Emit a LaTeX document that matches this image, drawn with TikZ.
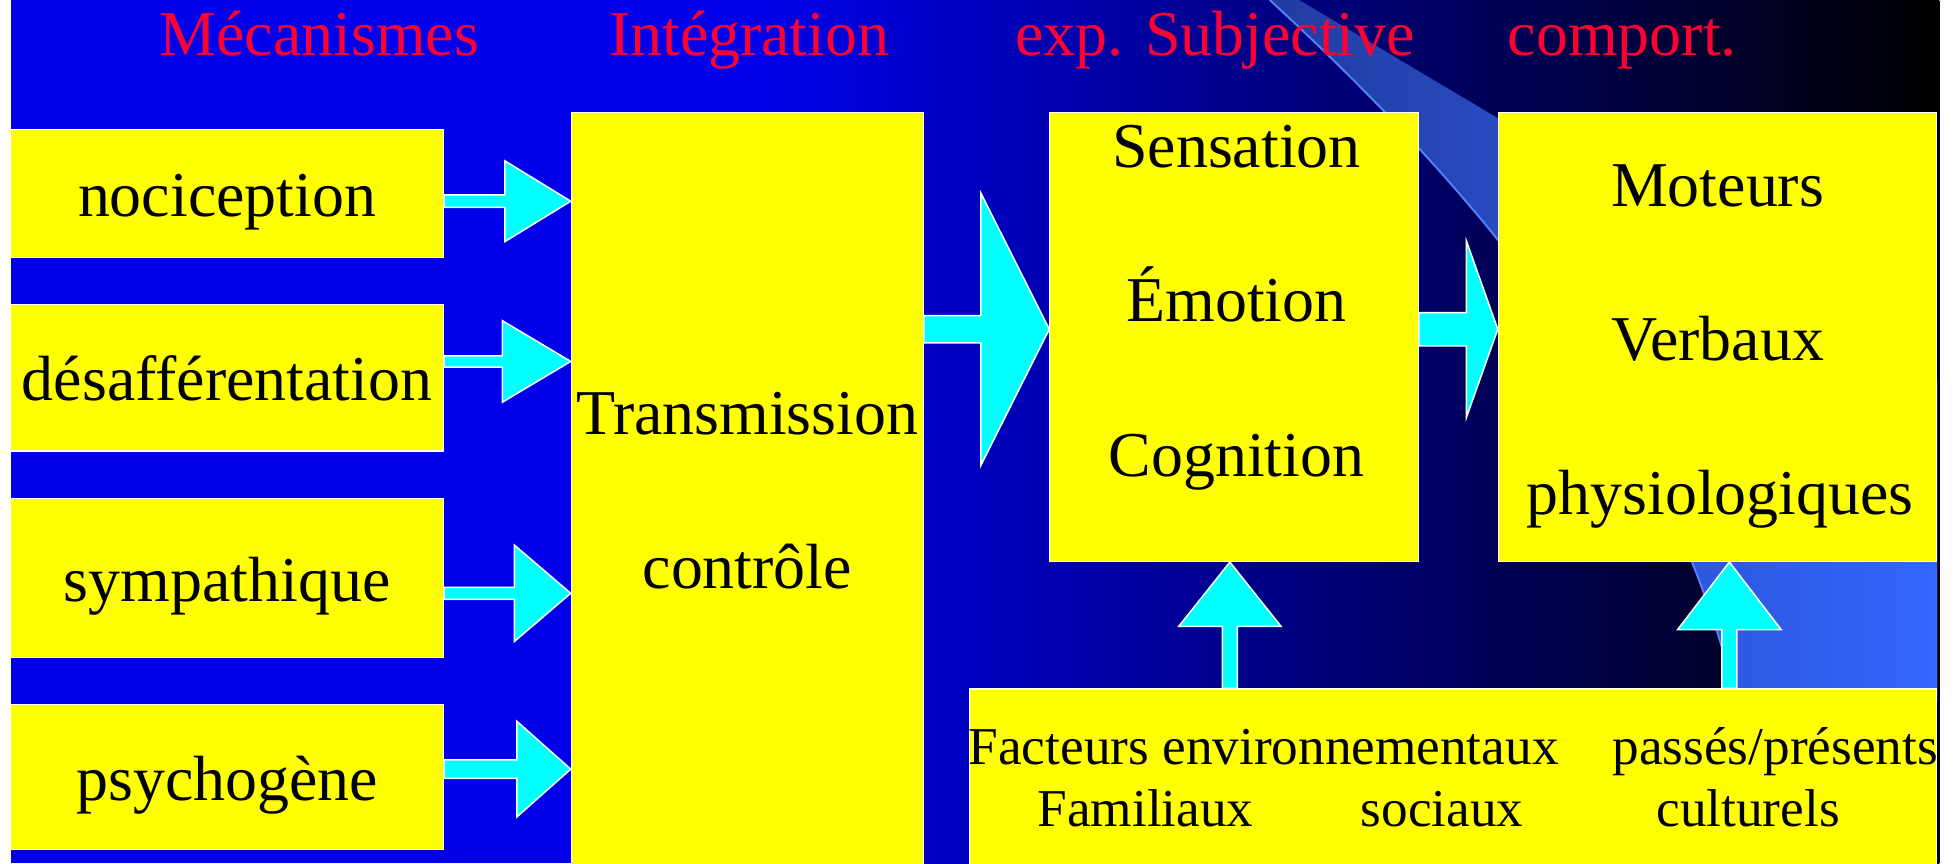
\documentclass[tikz,border=0pt]{standalone}
\usepackage{fontspec}
\setmainfont{Liberation Serif}
\usepackage{tikz}
\usetikzlibrary{calc}

\definecolor{bgblue}{RGB}{0,0,235}
\definecolor{headred}{RGB}{255,0,51}
\definecolor{boxyellow}{RGB}{255,255,0}
\definecolor{arrowcyan}{RGB}{0,255,255}
\definecolor{swoosh}{RGB}{51,102,255}
\definecolor{swooshdark}{RGB}{34,60,160}
\definecolor{swooshedge}{RGB}{80,130,255}

\tikzset{
  box/.style={draw=white,line width=0.9pt,fill=boxyellow,inner sep=0pt},
  flow/.style={draw=white,line width=1.2pt,fill=arrowcyan},
  head/.style={text=headred,font=\fontsize{51}{61}\selectfont,anchor=base,inner sep=0pt},
  lbl/.style={font=\fontsize{51}{61}\selectfont,anchor=base,inner sep=0pt},
  small/.style={font=\fontsize{42.5}{51}\selectfont,anchor=base west,inner sep=0pt}
}

% block arrow: tail, tip, half shaft, half head, head length (pt)
\newcommand\bigarrow[5]{%
  \coordinate (fb) at ($(#2)!#5pt!(#1)$);
  \filldraw[flow] ($(#1)!#3pt!90:(#2)$) -- ($(fb)!#3pt!90:(#2)$) -- ($(fb)!#4pt!90:(#2)$) -- (#2)
    -- ($(fb)!#4pt!-90:(#2)$) -- ($(fb)!#3pt!-90:(#2)$) -- ($(#1)!#3pt!-90:(#2)$) -- cycle;}

\begin{document}
\begin{tikzpicture}[x=1pt,y=-1pt]
  \useasboundingbox (0,0) rectangle (1560.5,689);

  % background and swoosh
  \fill[bgblue] (8.5,0) rectangle (602,689);
  \shade[left color=bgblue,right color=black] (600,0) rectangle (1548,689);
  \shade[left color=swooshdark,right color=swoosh] (1013.5,-2) -- (1033.6,-2) -- (1546.5,303)
    -- (1546.5,560) -- (1386,560) .. controls (1340,375) and (1231.5,200) .. (1013.5,0) -- cycle;
  \draw[swooshedge,line width=1.5pt] (1013.5,0) .. controls (1231.5,200) and (1340,375) .. (1385,555);

  % boxes
  \node[box,minimum width=345.5pt,minimum height=102.2pt] (noci)   at (181.25,154.5)  {};
  \node[box,minimum width=345.5pt,minimum height=117pt]   (desaff) at (181.25,301.5)  {};
  \node[box,minimum width=345.5pt,minimum height=126.7pt] (sympa)  at (181.25,461.35) {};
  \node[box,minimum width=345.5pt,minimum height=116pt]   (psycho) at (181.25,620)    {};
  \node[box,minimum width=281pt,minimum height=610pt]     (trans)  at (596.5,395)     {};
  \node[box,minimum width=294pt,minimum height=358.2pt]   (sens)   at (985,269.1)     {};
  \node[box,minimum width=350pt,minimum height=358.2pt]   (mot)    at (1371,269.1)    {};
  \node[box,minimum width=772pt,minimum height=150pt]     (fact)   at (1160,625)      {};

  % labels
  \node[lbl] (lnoci)   at (181.25,173) {nociception};
  \node[lbl] (ldesaff) at (181.25,320) {désafférentation};
  \node[lbl] (lsympa)  at (181.25,480) {sympathique};
  \node[lbl] (lpsycho) at (181.25,639) {psychogène};
  \node[lbl] (ltrans)  at (596.5,347)  {Transmission};
  \node[lbl] (lctrl)   at (596.5,470)  {contrôle};
  \node[lbl] (lsens)   at (987,134)    {Sensation};
  \node[lbl] (lemo)    at (987,257)    {Émotion};
  \node[lbl] (lcogn)   at (987,380)    {Cognition};
  \node[lbl] (lmot)    at (1371,165)   {Moteurs};
  \node[lbl] (lverb)   at (1371,288)   {Verbaux};
  \node[lbl] (lphys)   at (1373,411)   {physiologiques};
  \node[small] (lfact) at (773,610)    {Facteurs environnementaux};
  \node[small] (lpass) at (1287,610)   {passés/présents};
  \node[small] (lfam)  at (828,660)    {Familiaux};
  \node[small] (lsoc)  at (1086,660)   {sociaux};
  \node[small] (lcult) at (1322,660)   {culturels};

  % arrows
  \coordinate (n1) at ($(noci.east)+(0,6.1)$);
  \coordinate (n2) at ($(desaff.east)+(0,-13)$);
  \coordinate (n3) at ($(sympa.east)+(0,12.2)$);
  \coordinate (n4) at ($(psycho.east)+(0,-6.1)$);
  \coordinate (s1) at ($(sens.west)+(0,-6.3)$);
  \coordinate (m1) at ($(mot.west)+(0,-6.3)$);
  \coordinate (s2) at ($(sens.south)+(-3.3,0)$);
  \coordinate (m2) at ($(mot.south)+(9.4,0)$);
  \bigarrow{n1}{n1 -| trans.west}{5}{32.2}{52.5}
  \bigarrow{n2}{n2 -| trans.west}{4.5}{32.5}{54.5}
  \bigarrow{n3}{n3 -| trans.west}{4.8}{38.5}{45}
  \bigarrow{n4}{n4 -| trans.west}{7.3}{38.2}{43}
  \bigarrow{s1 -| trans.east}{s1}{10.8}{108.6}{54.6}
  \bigarrow{m1 -| sens.east}{m1}{13.3}{70.3}{25}
  \bigarrow{s2 |- fact.north}{s2}{6}{40.8}{51.3}
  \bigarrow{m2 |- fact.north}{m2}{6}{41.4}{54}

  % headings
  \node[head] (hmeca) at (255,44)  {Mécanismes};
  \node[head] (hint)  at (598,44)  {Intégration};
  \node[head] (hexp)  at (970,44)  {exp. Subjective};
  \node[head] (hcomp) at (1295,44) {comport.};
\end{tikzpicture}
\end{document}
